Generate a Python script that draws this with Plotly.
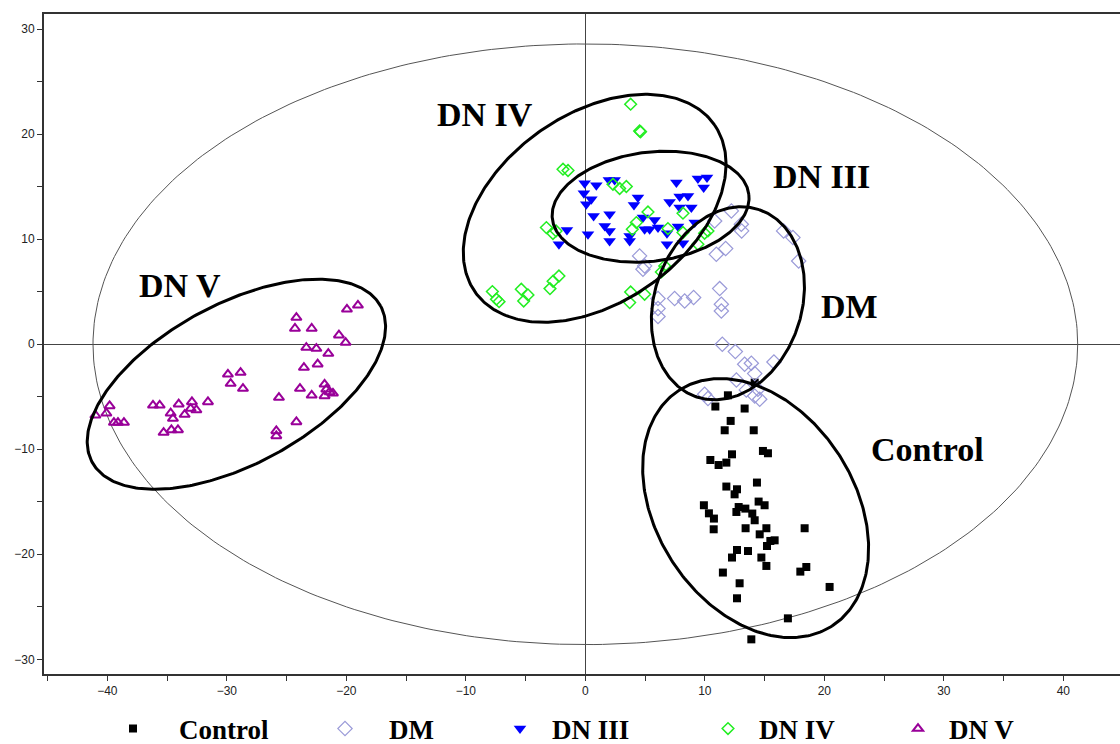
import numpy as np
import plotly.graph_objects as go

# ---------------- data (score plot) ----------------
control_x = [11.93, 10.88, 13.33, 12.16, 11.66, 14.09, 14.86, 15.28, 12.27, 10.46, 11.15, 11.80,
             14.36, 11.80, 12.69, 12.49, 14.50, 15.00, 9.92, 12.83, 13.39, 12.64, 10.34, 13.97,
             10.76, 14.17, 10.74, 13.41, 15.15, 18.35, 14.59, 15.84, 15.48, 15.20, 12.69, 13.61,
             12.27, 14.73, 15.15, 18.49, 17.99, 11.51, 12.91, 20.44, 12.69, 16.95, 13.89, 14.17]
control_y = [-4.86, -5.93, -6.12, -7.30, -8.19, -8.19, -10.16, -10.38, -10.48, -11.02, -11.50, -11.27,
             -13.17, -13.55, -13.81, -14.29, -14.98, -15.33, -15.33, -15.50, -15.65, -15.97, -16.10, -16.12,
             -16.60, -16.76, -17.62, -17.52, -17.52, -17.52, -18.10, -18.67, -18.73, -19.21, -19.59, -19.69,
             -20.31, -20.31, -21.11, -21.21, -21.65, -21.74, -22.76, -23.11, -24.19, -26.10, -28.10, -3.65]

dm_x = [4.54, 4.96, 4.82, 10.96, 11.74, 10.82, 12.22, 13.05, 13.08, 16.59, 17.37, 17.85,
        6.08, 6.08, 6.08, 7.47, 8.31, 9.06, 11.24, 11.38, 11.38, 11.46, 12.55, 13.33,
        13.89, 14.17, 15.78, 12.64, 13.47, 14.44, 14.59, 9.98, 10.26, 14.17]
dm_y = [8.41, 7.46, 7.14, 8.57, 9.11, 11.74, 12.70, 11.43, 10.79, 10.79, 10.16, 7.93,
        4.35, 3.40, 2.64, 4.35, 4.12, 4.45, 5.30, 3.81, 3.17, 0.00, -0.70, -1.90,
        -1.81, -2.79, -1.69, -3.40, -4.35, -4.29, -5.24, -4.76, -5.17, -4.92]

dn3_x = [-0.06, 0.92, 1.97, 2.45, 7.62, 9.42, 10.18, 9.90, -0.12, 0.50, 0.08, 4.40, 4.07,
         7.05, 7.89, 8.59, 7.89, 8.87, 0.69, 2.03, 4.82, 5.80, 9.15, 1.62, 2.03, -1.54,
         0.22, 4.96, 5.38, 6.08, 6.83, 7.75, 2.03, 3.71, 3.71, -2.21, 6.83, 8.17]
dn3_y = [15.33, 15.14, 15.65, 15.65, 15.40, 15.78, 15.87, 14.92, 14.38, 13.81, 13.33, 13.97, 13.27,
         13.55, 14.07, 14.12, 13.02, 13.02, 12.22, 12.38, 12.07, 11.84, 11.59, 11.27, 10.79, 10.89,
         10.48, 10.95, 10.95, 11.11, 10.57, 11.21, 9.84, 10.31, 9.84, 9.52, 9.52, 9.62]

dn4_x = [3.79, 4.54, 4.62, -1.87, -1.45, 2.31, 2.87, 3.43, 5.24, 4.27, 3.93, 6.91, 8.17,
         8.17, 9.42, 9.98, 10.26, -3.26, -2.71, -2.45, 6.36, 6.64, 3.79, 3.71, 4.96,
         -7.78, -7.44, -7.22, -5.36, -4.80, -5.16, -2.21, -2.70, -2.96]
dn4_y = [22.86, 20.31, 20.24, 16.67, 16.55, 15.24, 14.83, 15.02, 12.60, 11.59, 10.95, 11.02, 12.48,
         10.64, 9.52, 10.57, 10.79, 11.11, 10.55, 10.79, 6.89, 7.46, 4.98, 3.97, 4.76,
         5.02, 4.29, 4.06, 5.24, 4.70, 4.12, 6.50, 6.00, 5.30]

dn5_x = [-29.91, -29.68, -28.85, -28.65, -39.81, -40.08, -41.00, -39.45, -39.11, -38.61,
         -36.18, -35.62, -34.03, -32.92, -31.58, -34.70, -33.03, -32.55, -33.53, -34.51,
         -35.29, -34.64, -34.09, -24.18, -24.30, -22.90, -19.95, -19.03, -20.62, -20.06,
         -23.35, -22.51, -21.51, -23.55, -22.40, -23.88, -22.90, -25.64, -21.82, -21.68,
         -21.40, -21.12, -21.82, -24.18, -25.86, -25.86]
dn5_y = [-2.86, -3.74, -2.70, -4.22, -5.87, -6.57, -6.76, -7.46, -7.46, -7.46,
         -5.81, -5.81, -5.71, -5.49, -5.49, -6.57, -6.12, -6.26, -6.70, -7.08,
         -8.41, -8.16, -8.16, 2.54, 1.50, 1.50, 3.33, 3.71, 0.86, 0.16,
         -0.31, -0.41, -0.89, -2.22, -1.90, -4.22, -4.86, -5.08, -3.81, -4.29,
         -4.54, -4.67, -4.92, -7.40, -8.25, -8.73]

group_names = ["Control", "DM", "DN III", "DN IV", "DN V"]

# group ellipses: centre (data units), semi-axes (screen px), tilt (deg, visual CCW)
ell_cx = [14.25, 11.93, 5.46, 0.78, -29.2]
ell_cy = [-15.6, 3.9, 13.1, 12.95, -3.8]
ell_a = [140.5, 98.7, 99.0, 146.0, 164.0]
ell_b = [99.0, 73.7, 54.5, 94.5, 80.0]
ell_ang = [-56.9, 71.6, 7.2, 34.9, 28.4]

# Hotelling T2 ellipse (data units)
t2_a, t2_b = 41.2, 28.6

# label annotations (data coords)
label_text = ["DN IV", "DN III", "DM", "Control", "DN V"]
label_x = [-8.43, 19.77, 22.14, 28.64, -33.95]
label_y = [21.9, 16.0, 3.62, -10.0, 5.62]

# ---------------- layout geometry ----------------
W, H = 1120, 744
ML, MR, MT, MB = 44, 0, 14, 70
XR = [-45.3, 44.74]
YR = [-31.4, 31.45]
SX = (W - ML - MR) / (XR[1] - XR[0])
SY = (H - MT - MB) / (YR[1] - YR[0])

fig = go.Figure()

t = np.linspace(0, 2 * np.pi, 361)
fig.add_trace(go.Scatter(x=t2_a * np.cos(t), y=t2_b * np.sin(t), mode="lines",
                         line=dict(color="#555555", width=1), showlegend=False, hoverinfo="skip"))

styles = [
    dict(symbol="square", size=8, color="black", line=dict(width=0)),
    dict(symbol="diamond-open", size=11, color="#9a9ad8", line=dict(width=1.2, color="#9a9ad8")),
    dict(symbol="triangle-down", size=11, color="#0000ff", line=dict(width=0)),
    dict(symbol="diamond-open", size=9, color="#22ee22", line=dict(width=1.5, color="#22ee22")),
    dict(symbol="triangle-up-open", size=9, color="#990099", line=dict(width=2, color="#990099")),
]
xs = [control_x, dm_x, dn3_x, dn4_x, dn5_x]
ys = [control_y, dm_y, dn3_y, dn4_y, dn5_y]
legend_ids = ["legend", "legend2", "legend3", "legend4", "legend5"]
for i in range(5):
    fig.add_trace(go.Scatter(x=xs[i], y=ys[i], mode="markers", name=group_names[i],
                             marker=styles[i], legend=legend_ids[i]))

for cx, cy, a, b, ang in zip(ell_cx, ell_cy, ell_a, ell_b, ell_ang):
    th = np.deg2rad(ang)
    vx = a * np.cos(t) * np.cos(th) - b * np.sin(t) * np.sin(th)
    vy = a * np.cos(t) * np.sin(th) + b * np.sin(t) * np.cos(th)
    fig.add_trace(go.Scatter(x=cx + vx / SX, y=cy + vy / SY, mode="lines",
                             line=dict(color="black", width=3), showlegend=False, hoverinfo="skip"))

for txt, lx, ly in zip(label_text, label_x, label_y):
    fig.add_annotation(x=lx, y=ly, text=txt, showarrow=False,
                       font=dict(family="Liberation Serif", size=34, color="black", weight="bold"))

# legends positioned individually (left edge px, item width)
leg_left = [87, 301, 488, 697, 887]
leg_iw = [82, 78, 54, 52, 52]
layout_legends = {}
for lid, px, iw in zip(legend_ids, leg_left, leg_iw):
    layout_legends[lid] = dict(
        orientation="h", xanchor="left", yanchor="middle",
        x=(px - ML) / (W - ML - MR),
        y=-((729 - (H - MB)) / (H - MT - MB)),
        font=dict(family="Liberation Serif", size=27, color="black", weight="bold"),
        bgcolor="rgba(0,0,0,0)", itemwidth=iw)

fig.update_layout(
    width=W, height=H,
    margin=dict(l=ML, r=MR, t=MT, b=MB, autoexpand=False),
    plot_bgcolor="white", paper_bgcolor="white",
    showlegend=True,
    xaxis=dict(range=XR, dtick=10, tick0=0, ticks="outside", ticklen=5, tickcolor="#333",
               showline=True, linecolor="#333", linewidth=2, mirror=True, automargin=False,
               showgrid=False, zeroline=True, zerolinecolor="#444", zerolinewidth=1,
               minor=dict(dtick=5, ticks="outside", ticklen=5, tickcolor="#333"),
               tickfont=dict(family="Liberation Sans", size=12, color="#222")),
    yaxis=dict(range=YR, dtick=10, tick0=0, ticks="outside", ticklen=5, tickcolor="#333",
               showline=True, linecolor="#333", linewidth=2, automargin=False,
               showgrid=False, zeroline=True, zerolinecolor="#444", zerolinewidth=1,
               minor=dict(dtick=5, ticks="outside", ticklen=5, tickcolor="#333"),
               tickfont=dict(family="Liberation Sans", size=12, color="#222")),
    **layout_legends,
)

fig.write_html("out.html", config={"displayModeBar": False},
               post_script="document.body.style.margin='0';document.body.style.padding='0';")
